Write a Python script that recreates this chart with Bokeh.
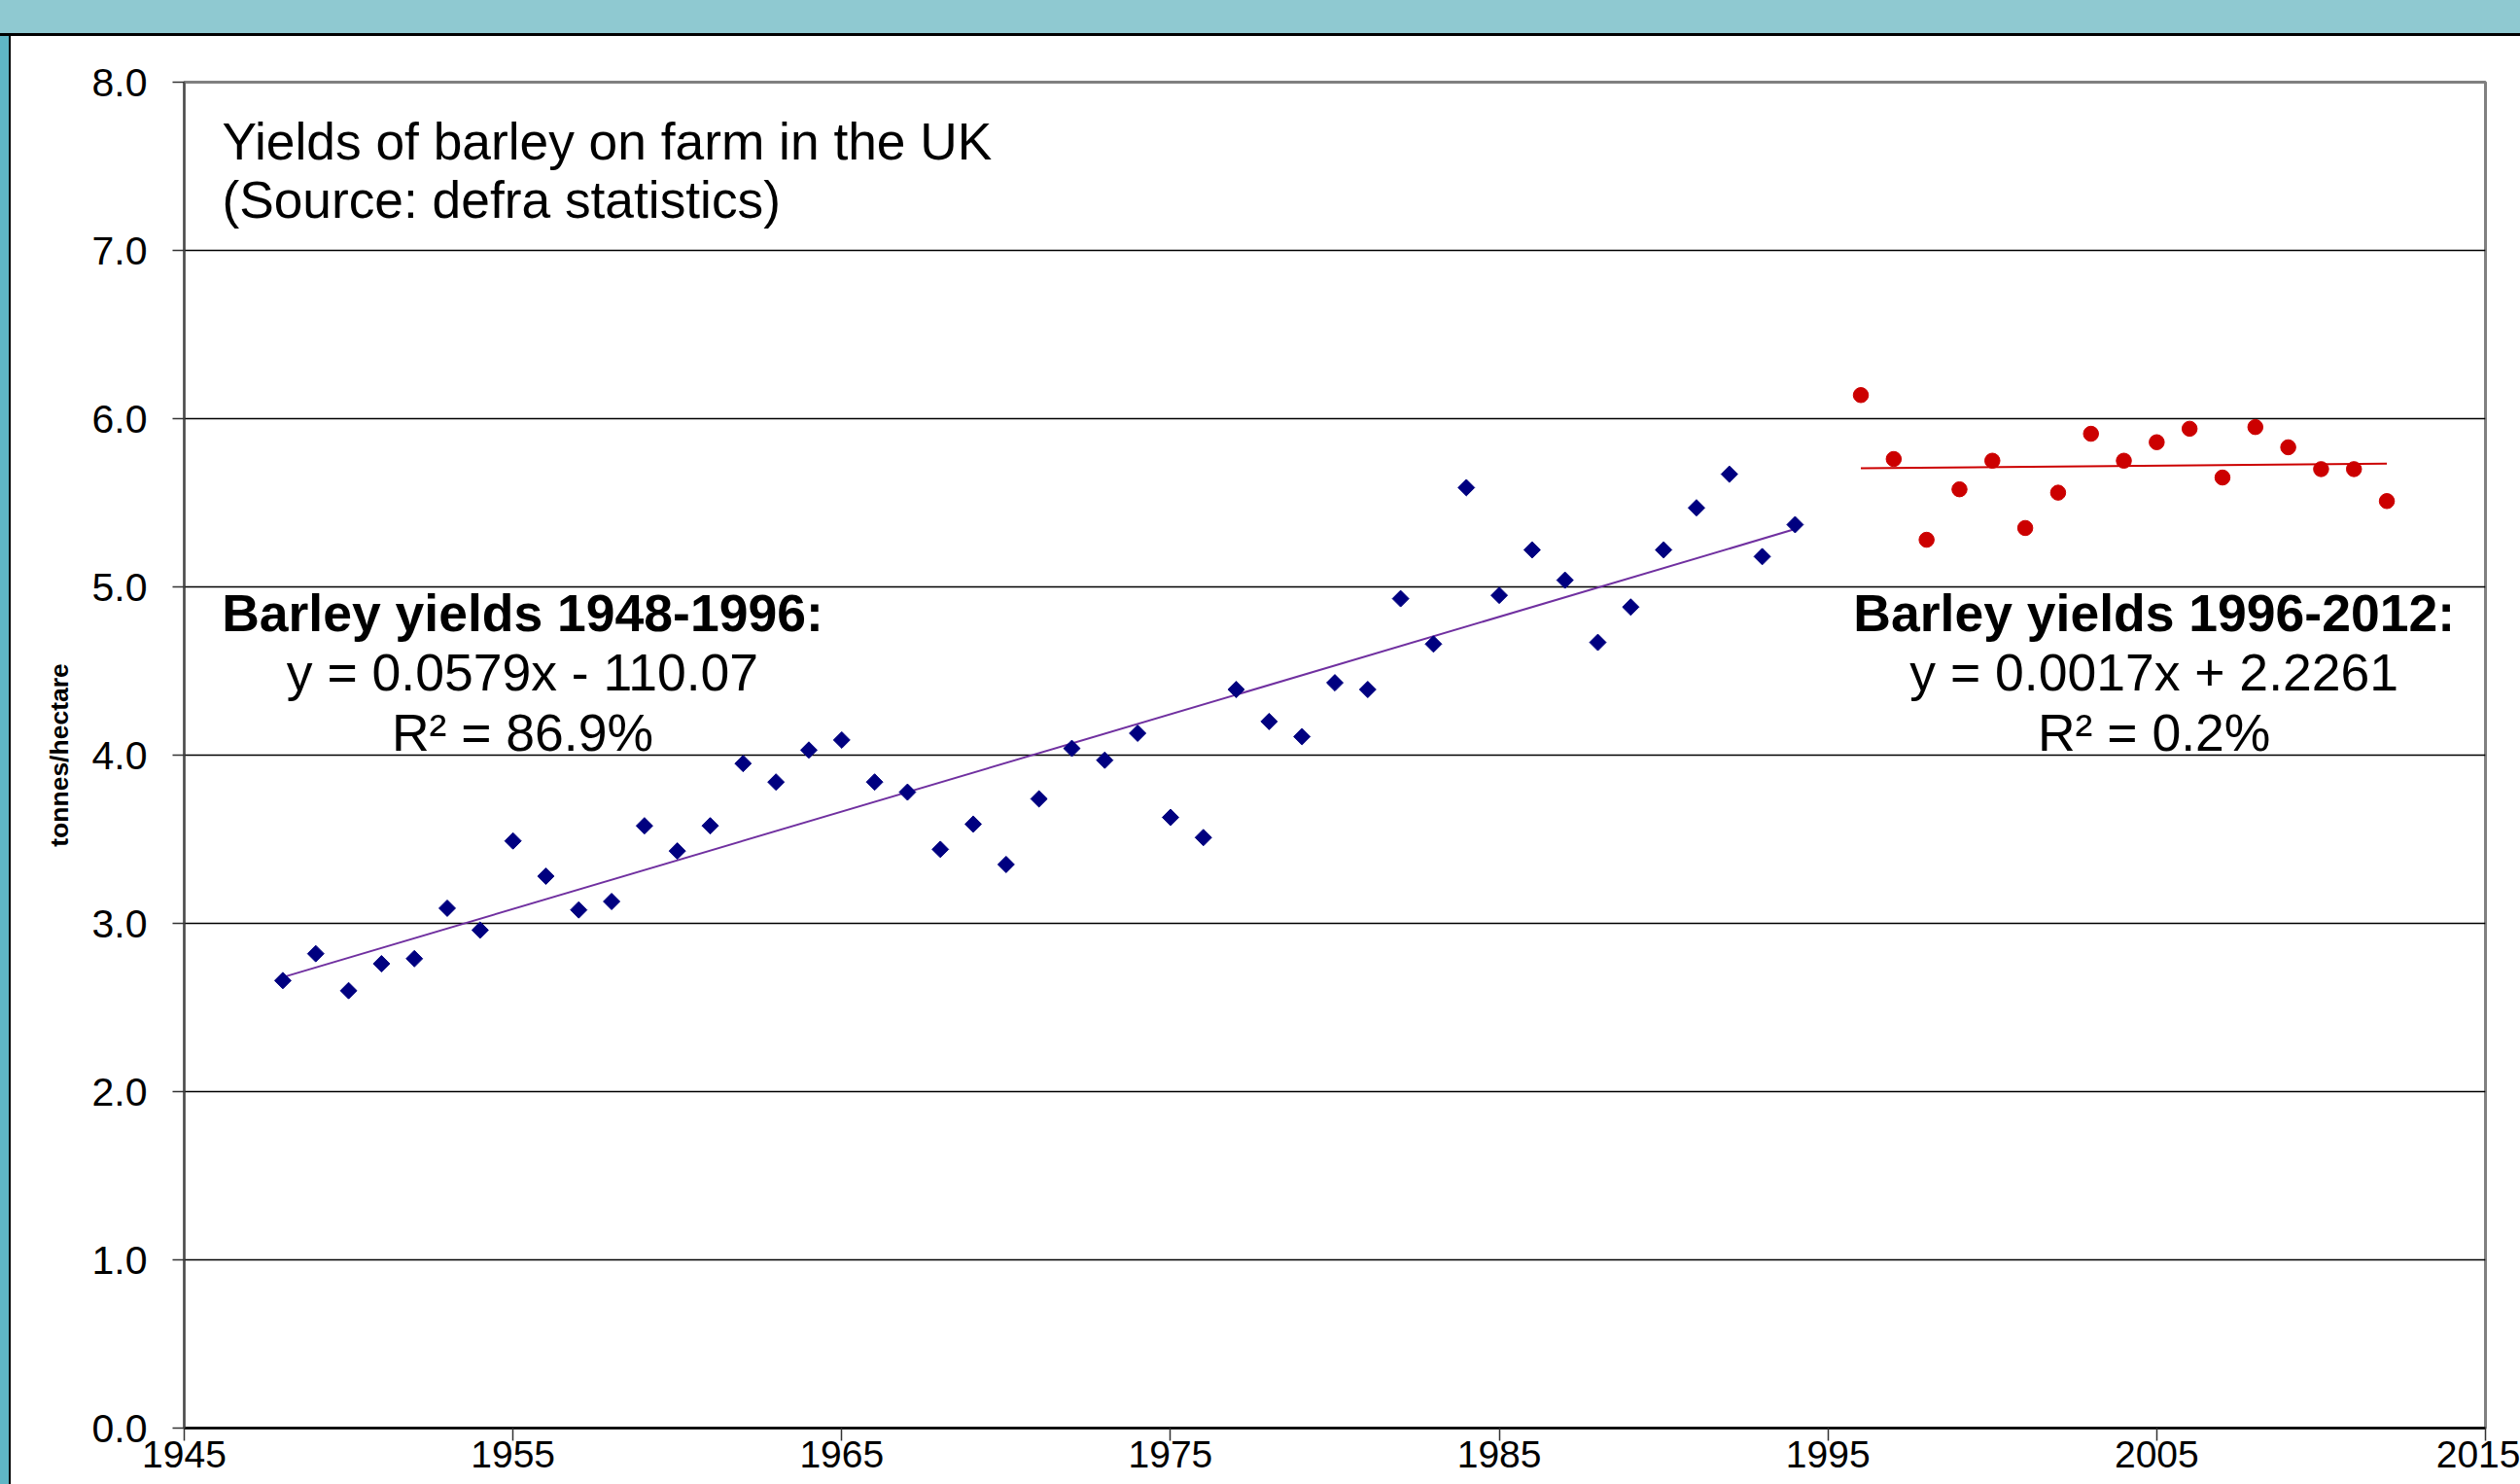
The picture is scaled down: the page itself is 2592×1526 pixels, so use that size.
import numpy as np
from bokeh.plotting import figure
from bokeh.models import FixedTicker, PrintfTickFormatter, Label, Div, Range1d
from bokeh.layouts import column, row
from bokeh.embed import file_html
from bokeh.resources import INLINE

# ---------------- data ----------------
years_early = [1948, 1949, 1950, 1951, 1952, 1953, 1954, 1955, 1956, 1957,
               1958, 1959, 1960, 1961, 1962, 1963, 1964, 1965, 1966, 1967,
               1968, 1969, 1970, 1971, 1972, 1973, 1974, 1975, 1976, 1977,
               1978, 1979, 1980, 1981, 1982, 1983, 1984, 1985, 1986, 1987,
               1988, 1989, 1990, 1991, 1992, 1993, 1994]
yield_early = [2.66, 2.82, 2.60, 2.76, 2.79, 3.09, 2.96, 3.49, 3.28, 3.08,
               3.13, 3.58, 3.43, 3.58, 3.95, 3.84, 4.03, 4.09, 3.84, 3.78,
               3.44, 3.59, 3.35, 3.74, 4.04, 3.97, 4.13, 3.63, 3.51, 4.39,
               4.20, 4.11, 4.43, 4.39, 4.93, 4.66, 5.59, 4.95, 5.22, 5.04,
               4.67, 4.88, 5.22, 5.47, 5.67, 5.18, 5.37]
years_late = [1996, 1997, 1998, 1999, 2000, 2001, 2002, 2003, 2004, 2005,
              2006, 2007, 2008, 2009, 2010, 2011, 2012]
yield_late = [6.14, 5.76, 5.28, 5.58, 5.75, 5.35, 5.56, 5.91, 5.75, 5.86,
              5.94, 5.65, 5.95, 5.83, 5.70, 5.70, 5.51]

x_ticks = [1945, 1955, 1965, 1975, 1985, 1995, 2005, 2015]
y_ticks = [0, 1, 2, 3, 4, 5, 6, 7, 8]

title_lines = ["Yields of barley on farm in the UK", "(Source: defra statistics)"]
left_block = ["Barley yields 1948-1996:", "y = 0.0579x - 110.07", "R\u00b2 = 86.9%"]
right_block = ["Barley yields 1996-2012:", "y = 0.0017x + 2.2261", "R\u00b2 = 0.2%"]
y_label = "tonnes/hectare"

FONT = "Liberation Sans"
TEAL = "#8FC9D1"
TEAL_DARK = "#5FB6C5"

# ---------------- trend lines (least squares from the data) ----------------
c1 = np.polyfit(years_early, yield_early, 1)
c2 = np.polyfit(years_late, yield_late, 1)
tx1 = [years_early[0], years_early[-1]]
ty1 = list(np.polyval(c1, tx1))
tx2 = [years_late[0], years_late[-1]]
ty2 = list(np.polyval(c2, tx2))

# ---------------- figure ----------------
FIG_W, FIG_H = 2581, 1489
p = figure(width=FIG_W, height=FIG_H,
           x_range=Range1d(1945, 2015), y_range=Range1d(0, 8),
           output_backend="svg", toolbar_location=None,
           min_border_left=178, min_border_right=36,
           min_border_top=47, min_border_bottom=58)
p.background_fill_color = "white"
p.border_fill_color = "white"
p.outline_line_color = "#808080"
p.outline_line_width = 3

p.xgrid.visible = False
p.ygrid.ticker = FixedTicker(ticks=y_ticks)
p.ygrid.grid_line_color = "black"
p.ygrid.grid_line_width = 1.5

p.xaxis.ticker = FixedTicker(ticks=x_ticks)
p.xaxis.major_label_text_font = FONT
p.xaxis.major_label_text_font_size = "39px"
p.xaxis.major_label_text_color = "black"
p.xaxis.major_label_standoff = 0
p.xaxis.major_tick_out = 13
p.xaxis.major_tick_in = 0
p.xaxis.minor_tick_line_color = None
p.xaxis.major_tick_line_color = "#333333"
p.xaxis.major_tick_line_width = 1.5
p.xaxis.axis_line_color = "black"
p.xaxis.axis_line_width = 2.5

p.yaxis.ticker = FixedTicker(ticks=y_ticks)
p.yaxis.formatter = PrintfTickFormatter(format="%.1f")
p.yaxis.major_label_text_font = FONT
p.yaxis.major_label_text_font_size = "41px"
p.yaxis.major_label_text_color = "black"
p.yaxis.major_label_standoff = 26
p.yaxis.major_tick_out = 12
p.yaxis.major_tick_in = 0
p.yaxis.minor_tick_line_color = None
p.yaxis.major_tick_line_color = "#333333"
p.yaxis.major_tick_line_width = 1.5
p.yaxis.axis_line_color = "#4d4d4d"
p.yaxis.axis_line_width = 2
p.yaxis.axis_label = y_label
p.yaxis.axis_label_text_font = FONT
p.yaxis.axis_label_text_font_style = "bold"
p.yaxis.axis_label_text_font_size = "26.5px"
p.yaxis.axis_label_text_color = "black"
p.yaxis.axis_label_standoff = 16

# trend lines
p.line(tx1, ty1, line_color="#7030A0", line_width=2)
p.line(tx2, ty2, line_color="#CC0000", line_width=2)

# points
p.scatter(years_early, yield_early, marker="square", angle=np.pi / 4, size=12,
          fill_color="#000080", line_color="#000080")
p.scatter(years_late, yield_late, marker="circle", size=15.5,
          fill_color="#CC0000", line_color="#CC0000")

# texts
for txt, yy in zip(title_lines, [7.65, 7.30]):
    p.add_layout(Label(x=1946.15, y=yy, text=txt, text_font=FONT,
                       text_font_size="53.3px", text_color="black",
                       text_align="left", text_baseline="alphabetic"))

block_y = [4.845, 4.492, 4.133]
for block, xx in [(left_block, 1955.29), (right_block, 2004.92)]:
    for i, (txt, yy) in enumerate(zip(block, block_y)):
        p.add_layout(Label(x=xx, y=yy, text=txt, text_font=FONT,
                           text_font_size="53.5px", text_color="black",
                           text_font_style="bold" if i == 0 else "normal",
                           text_align="center", text_baseline="alphabetic"))

# slide background: teal band on top and at the left, with black edges
top_teal = Div(text="", width=2592, height=34, margin=(0, 0, 0, 0),
               styles={"background-color": TEAL})
top_black = Div(text="", width=2592, height=3, margin=(0, 0, 0, 0),
                styles={"background-color": "black"})
left_teal = Div(text="", width=9, height=FIG_H, margin=(0, 0, 0, 0),
                styles={"background-color": TEAL_DARK})
left_black = Div(text="", width=2, height=FIG_H, margin=(0, 0, 0, 0),
                 styles={"background-color": "black"})

layout = column(top_teal, top_black,
                row(left_teal, left_black, p, spacing=0), spacing=0)

open("out.html", "w").write(file_html(layout, INLINE))
